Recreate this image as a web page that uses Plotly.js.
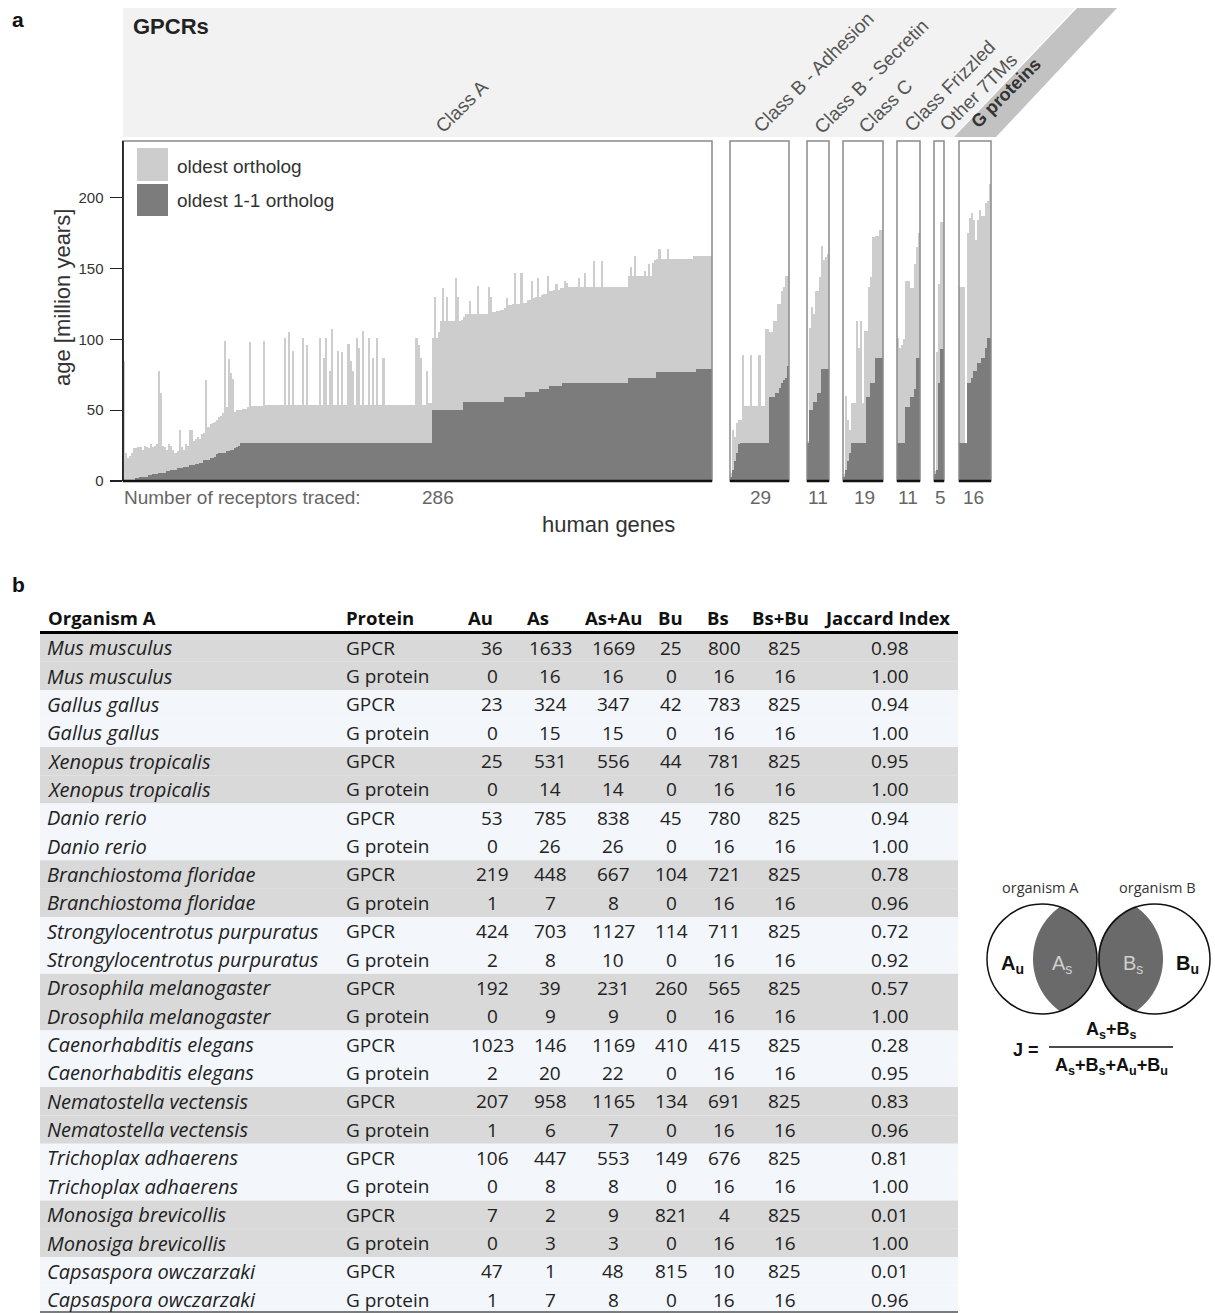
<!DOCTYPE html>
<html><head><meta charset="utf-8">
<script src="https://cdn.plot.ly/plotly-3.0.1.min.js"></script>
<style>html,body{margin:0;padding:0;background:#fff}</style>
</head><body>
<div id="chart" style="width:1215px;height:1313px"></div>
<script>
// ---------------- DATA ----------------
const classA_light = [85,
20,16,18,20,
23,23,24,24,22,25,24,23,26,24,25,26,
78,62,
25,24,22,26,25,22,20,21,
36,
24,22,26,25,
36,36,
28,30,31,30,33,34,
71,
38,40,41,42,43,45,46,48,
99,52,86,76,72,
49,50,50,50,51,51,52,
98,
53,53,53,53,53,53,
99,
54,54,54,54,54,54,54,54,54,
101,54,105,54,92,54,54,54,54,
101,54,96,54,54,54,54,54,
101,54,87,101,54,78,107,54,54,
92,54,91,54,54,97,85,78,54,
101,94,54,106,54,54,101,54,87,54,101,54,54,87,
54,54,54,54,54,54,54,54,54,54,54,54,54,54,54,
101,96,87,54,54,78,55,55,
101,130,101,105,113,136,113,130,113,113,113,143,130,
113,114,116,118,118,127,118,118,118,138,
118,118,118,118,137,130,
119,119,120,120,121,121,122,129,
124,124,125,147,125,125,147,
126,126,128,128,141,129,130,143,
130,131,132,132,145,
134,134,135,139,135,136,136,141,140,
137,137,137,137,137,143,137,137,147,137,137,137,155,137,137,137,155,
137,137,137,137,137,137,137,137,137,137,137,137,
145,151,145,159,145,145,145,145,148,145,153,145,
154,156,157,164,157,157,157,164,
157,157,157,157,157,157,157,157,157,157,157,157,
159,159,159,159,159,159,159,159,159];
const classA_dark = [0,0,0,0,0,0,
2,2,3,3,3,3,4,4,
5,5,5,6,6,6,6,7,7,
8,8,8,9,9,9,10,10,10,
11,11,11,12,12,13,13,
15,15,15,16,16,17,
19,20,20,20,20,21,21,22,22,23,24,25,
27,27,27,27,27,27,27,27,27,27,27,27,27,27,27,27,27,27,27,27,
27,27,27,27,27,27,27,27,27,27,27,27,27,27,27,27,27,27,27,27,
27,27,27,27,27,27,27,27,27,27,27,27,27,27,27,27,27,27,27,27,
27,27,27,27,27,27,27,27,27,27,27,27,27,27,27,27,27,27,27,27,
27,27,27,27,27,27,27,27,27,27,27,27,27,
50,50,50,50,50,50,50,50,50,50,50,50,50,50,50,
56,56,56,56,56,56,56,56,56,56,56,56,56,56,56,56,56,56,56,56,
59,59,59,59,59,59,59,59,59,59,
63,63,63,63,63,63,63,
65,65,65,65,65,
67,67,67,67,67,67,
69,69,69,69,69,69,69,69,69,69,69,69,69,69,69,69,
69,69,69,69,69,69,69,69,69,69,69,69,69,69,69,69,
73,73,73,73,73,73,73,73,73,73,73,73,73,73,
77,77,77,77,77,77,77,77,77,77,77,77,77,77,77,77,77,77,77,
79,79,79,79,79,79,79,79];
const adh_light = [6,36,31,41,43,43,89,53,53,53,89,53,53,53,89,53,53,107,107,105,105,113,113,125,125,134,137,145,145];
const adh_dark  = [3,8,14,20,26,27,27,27,27,27,27,27,27,27,27,27,27,27,27,59,59,59,62,62,66,69,71,73,81];
const sec_light = [28,108,123,118,134,134,144,166,156,158,160];
const sec_dark  = [27,50,50,56,56,62,62,79,79,79,79];
const cc_light  = [5,60,43,36,55,55,113,94,113,55,106,106,137,144,172,173,173,177,177];
const cc_dark   = [3,8,14,20,27,27,27,27,27,27,27,59,59,69,69,87,87,87,87];
const fz_light  = [101,94,96,100,141,141,136,136,153,165,175];
const fz_dark   = [27,27,27,27,52,52,59,59,65,87,87];
const ot_light  = [7,91,139,183,183];
const ot_dark   = [5,8,69,93,93];
const gp_light  = [137,137,137,27,175,186,189,184,170,184,191,187,187,196,198,210];
const gp_dark   = [27,27,27,27,69,69,73,78,78,83,83,87,87,94,101,101];

const groupLabels = ["Class A","Class B - Adhesion","Class B - Secretin","Class C","Class Frizzled","Other 7TMs","G proteins"];
const yTicks = [0,50,100,150,200];

// table
const organisms = ["Mus musculus","Mus musculus","Gallus gallus","Gallus gallus","Xenopus tropicalis","Xenopus tropicalis","Danio rerio","Danio rerio","Branchiostoma floridae","Branchiostoma floridae","Strongylocentrotus purpuratus","Strongylocentrotus purpuratus","Drosophila melanogaster","Drosophila melanogaster","Caenorhabditis elegans","Caenorhabditis elegans","Nematostella vectensis","Nematostella vectensis","Trichoplax adhaerens","Trichoplax adhaerens","Monosiga brevicollis","Monosiga brevicollis","Capsaspora owczarzaki","Capsaspora owczarzaki"];
const proteins = ["GPCR","G protein","GPCR","G protein","GPCR","G protein","GPCR","G protein","GPCR","G protein","GPCR","G protein","GPCR","G protein","GPCR","G protein","GPCR","G protein","GPCR","G protein","GPCR","G protein","GPCR","G protein"];
const Au   = [36,0,23,0,25,0,53,0,219,1,424,2,192,0,1023,2,207,1,106,0,7,0,47,1];
const As   = [1633,16,324,15,531,14,785,26,448,7,703,8,39,9,146,20,958,6,447,8,2,3,1,7];
const AsAu = [1669,16,347,15,556,14,838,26,667,8,1127,10,231,9,1169,22,1165,7,553,8,9,3,48,8];
const Bu   = [25,0,42,0,44,0,45,0,104,0,114,0,260,0,410,0,134,0,149,0,821,0,815,0];
const Bs   = [800,16,783,16,781,16,780,16,721,16,711,16,565,16,415,16,691,16,676,16,4,16,10,16];
const BsBu = [825,16,825,16,825,16,825,16,825,16,825,16,825,16,825,16,825,16,825,16,825,16,825,16];
const jaccard = [0.98,1.00,0.94,1.00,0.95,1.00,0.94,1.00,0.78,0.96,0.72,0.92,0.57,1.00,0.28,0.95,0.83,0.96,0.81,1.00,0.01,1.00,0.01,0.96];
const headers = ["Organism A","Protein","Au","As","As+Au","Bu","Bs","Bs+Bu","Jaccard Index"];

// ---------------- LAYOUT HELPERS ----------------
const W = 1215, H = 1313;
const X = p => p / W;
const Y = p => 1 - p / H;
const LIGHT = '#cdcdcd', DARK = '#7c7c7c';
const AF = 'Liberation Sans, Arial, sans-serif';
const TF = 'Open Sans, Lato, sans-serif';

const panels = [
  {light: classA_light, dark: classA_dark, x0:123, x1:712, cx:438, lx:462, ly:107},
  {light: adh_light, dark: adh_dark, x0:730, x1:789, cx:760, lx:813, ly:72},
  {light: sec_light, dark: sec_dark, x0:807, x1:829, cx:818, lx:871, ly:76},
  {light: cc_light, dark: cc_dark, x0:843, x1:883, cx:864, lx:885, ly:106},
  {light: fz_light, dark: fz_dark, x0:897, x1:920, cx:908, lx:949, ly:86},
  {light: ot_light, dark: ot_dark, x0:934, x1:944, cx:940, lx:978, ly:92},
  {light: gp_light, dark: gp_dark, x0:959, x1:991, cx:974, lx:1006, ly:93}
];

const traces = [];
const layout = {
  width: W, height: H,
  margin: {l:0, r:0, t:0, b:0},
  paper_bgcolor: '#fff', plot_bgcolor: 'rgba(0,0,0,0)',
  barmode: 'overlay', bargap: 0,
  showlegend: false,
  font: {family: AF, color: '#333'},
  shapes: [], annotations: []
};
const ann = (x, y, t, sz, col, xa, fam, extra) => layout.annotations.push(Object.assign({xref:'paper', yref:'paper', x:X(x), y:Y(y), text:t, showarrow:false, xanchor:xa || 'center', yanchor:'middle', font:{size:sz, color:col, family:fam || AF}}, extra || {}));

// header background
layout.shapes.push({type:'path', xref:'paper', yref:'paper', layer:'below',
  path:`M ${X(123)},${Y(8)} L ${X(1075)},${Y(8)} L ${X(953)},${Y(137)} L ${X(123)},${Y(137)} Z`,
  fillcolor:'#f2f2f2', line:{width:0}});
layout.shapes.push({type:'path', xref:'paper', yref:'paper', layer:'below',
  path:`M ${X(1077)},${Y(8)} L ${X(1117)},${Y(8)} L ${X(996)},${Y(137)} L ${X(954)},${Y(137)} Z`,
  fillcolor:'#c2c2c2', line:{width:0}});

panels.forEach((p, i) => {
  const xa = i === 0 ? 'x' : 'x' + (i + 1);
  const axKey = i === 0 ? 'xaxis' : 'xaxis' + (i + 1);
  const n = p.light.length;
  const xs = p.light.map((_, k) => k);
  traces.push({type:'bar', x: xs, y: p.light, xaxis: xa, yaxis:'y', name:'oldest ortholog',
    marker:{color: LIGHT, line:{width:0}}, hoverinfo:'skip'});
  traces.push({type:'bar', x: xs, y: p.dark, xaxis: xa, yaxis:'y', name:'oldest 1-1 ortholog',
    marker:{color: DARK, line:{width:0}}, hoverinfo:'skip'});
  layout[axKey] = {domain:[X(p.x0), X(p.x1)], range:[-0.5, n - 0.5], anchor:'y',
    showgrid:false, zeroline:false, showticklabels:false, ticks:'', showline:false, fixedrange:true};
  layout.shapes.push({type:'rect', xref: xa + ' domain', yref:'y domain', x0:0, x1:1, y0:0, y1:1,
    line:{color:'#8a8a8a', width:1.5}, fillcolor:'rgba(0,0,0,0)'});
  layout.shapes.push({type:'line', xref: xa + ' domain', yref:'y domain', x0:0, x1:1, y0:0, y1:0,
    line:{color:'#111', width:2.5}});
  ann(p.cx, 498, String(n), 19, '#666');
  const isG = i === panels.length - 1;
  ann(p.lx, p.ly, isG ? '<b>' + groupLabels[i] + '</b>' : groupLabels[i], isG ? 18 : 19, isG ? '#333' : '#555', 'center', AF, {textangle:-45});
});

layout.yaxis = {domain:[Y(481), Y(141)], range:[0, 240], anchor:'x',
  tickvals: yTicks, ticks:'outside', ticklen:12, tickwidth:1.2, tickcolor:'#222', ticklabelstandoff:3,
  showline:true, linecolor:'#111', linewidth:1.5, showgrid:false, zeroline:false,
  tickfont:{size:15, color:'#333', family:AF}, fixedrange:true};
// y-axis title placed to match reference
ann(62, 298, 'age [million years]', 22, '#333', 'center', AF, {textangle:-90});

layout.shapes.push({type:'line', xref:'x domain', yref:'y domain', x0:0, x1:0, y0:0, y1:1, line:{color:'#111', width:1.5}});

// legend (drawn)
layout.shapes.push({type:'rect', xref:'paper', yref:'paper', x0:X(137), x1:X(168), y0:Y(148), y1:Y(181), fillcolor:LIGHT, line:{width:0}});
layout.shapes.push({type:'rect', xref:'paper', yref:'paper', x0:X(137), x1:X(168), y0:Y(184), y1:Y(216), fillcolor:DARK, line:{width:0}});
ann(175, 166, 'oldest ortholog', 19, '#333', 'left');
ann(175, 201, 'oldest 1-1 ortholog', 19, '#333', 'left');

ann(10, 20, '<b>a</b>', 21, '#111', 'left');
ann(131, 27, '<b>GPCRs</b>', 22, '#222', 'left');
ann(122, 498, 'Number of receptors traced:', 19, '#666', 'left');
ann(608, 524, 'human genes', 22, '#333');
ann(10, 585, '<b>b</b>', 21, '#111', 'left');

// ---------------- TABLE (row bands + cell texts) ----------------
const rowTop = 633.5, rowH = 28.35;
organisms.forEach((o, r) => {
  const fill = (Math.floor(r / 2) % 2 === 0) ? '#d9d9d9' : '#f3f6fa';
  layout.shapes.push({type:'rect', xref:'paper', yref:'paper', layer:'below', x0:X(40), x1:X(958),
    y0:Y(rowTop + r*rowH), y1:Y(rowTop + (r+1)*rowH), fillcolor:fill, line:{width:0}});
});
const headX = [46,344,466,525,583,656,705,750,822];
headers.forEach((h, c) => ann(headX[c], 617, '<b>' + h + '</b>', 18.5, '#111', 'left', TF));
const numCols = [Au, As, AsAu, Bu, Bs, BsBu];
const numX = [492, 550, 613, 671, 724, 785];
organisms.forEach((o, r) => {
  const yc = rowTop + (r + 0.5) * rowH;
  ann(45, yc, '<i>' + o + '</i>', 20, '#222', 'left', TF);
  ann(344, yc, proteins[r], 19, '#222', 'left', TF);
  numCols.forEach((col, c) => ann(numX[c], yc, String(col[r]), 19, '#222', 'center', TF));
  ann(890, yc, jaccard[r].toFixed(2), 19, '#222', 'center', TF);
});
layout.shapes.push({type:'line', xref:'paper', yref:'paper', x0:X(40), x1:X(958), y0:Y(632.5), y1:Y(632.5), line:{color:'#000', width:3}});
layout.shapes.push({type:'line', xref:'paper', yref:'paper', x0:X(40), x1:X(958), y0:Y(1312), y1:Y(1312), line:{color:'#000', width:1.2}});

// ---------------- VENN ----------------
function lens(c1x, c2x, cy, r1, r2) {
  const d = Math.abs(c2x - c1x), s = Math.sign(c2x - c1x);
  const a = (r1*r1 - r2*r2 + d*d) / (2*d);
  const h = Math.sqrt(r1*r1 - a*a);
  const al = Math.atan2(h, a);
  const be = Math.atan2(h, d - a);
  const pts = [];
  for (let k = 0; k <= 40; k++) { const t = -al + 2*al*k/40; pts.push([c1x + s*r1*Math.cos(t), cy + r1*Math.sin(t)]); }
  for (let k = 0; k <= 40; k++) { const t = be - 2*be*k/40; pts.push([c2x - s*r2*Math.cos(t), cy + r2*Math.sin(t)]); }
  return 'M ' + pts.map(q => X(q[0]) + ',' + Y(q[1])).join(' L ') + ' Z';
}
layout.shapes.push({type:'path', xref:'paper', yref:'paper', path: lens(1042, 1097, 959, 55, 64), fillcolor:'#6a6a6a', line:{width:0}});
layout.shapes.push({type:'path', xref:'paper', yref:'paper', path: lens(1154, 1099, 959, 56, 64), fillcolor:'#6a6a6a', line:{width:0}});
layout.shapes.push({type:'circle', xref:'paper', yref:'paper', x0:X(987), x1:X(1097), y0:Y(904), y1:Y(1014), line:{color:'#111', width:1.5}});
layout.shapes.push({type:'circle', xref:'paper', yref:'paper', x0:X(1099), x1:X(1210), y0:Y(904), y1:Y(1014), line:{color:'#111', width:1.5}});
ann(1040, 887, 'organism A', 14.5, '#333', 'center', TF);
ann(1157, 887, 'organism B', 14.5, '#333', 'center', TF);
ann(1012, 964, '<b>A<sub>u</sub></b>', 20, '#111');
ann(1062, 964, 'A<sub>s</sub>', 20, '#cfcfcf');
ann(1133, 964, 'B<sub>s</sub>', 20, '#cfcfcf');
ann(1187, 964, '<b>B<sub>u</sub></b>', 20, '#111');
ann(1026, 1050, '<b>J =</b>', 18, '#111');
ann(1111, 1030, '<b>A<sub>s</sub>+B<sub>s</sub></b>', 18, '#111');
ann(1111, 1066, '<b>A<sub>s</sub>+B<sub>s</sub>+A<sub>u</sub>+B<sub>u</sub></b>', 18, '#111');
layout.shapes.push({type:'line', xref:'paper', yref:'paper', x0:X(1049), x1:X(1173), y0:Y(1047), y1:Y(1047), line:{color:'#111', width:1.5}});

Plotly.newPlot('chart', traces, layout, {displayModeBar:false, staticPlot:true});
</script>
</body></html>
